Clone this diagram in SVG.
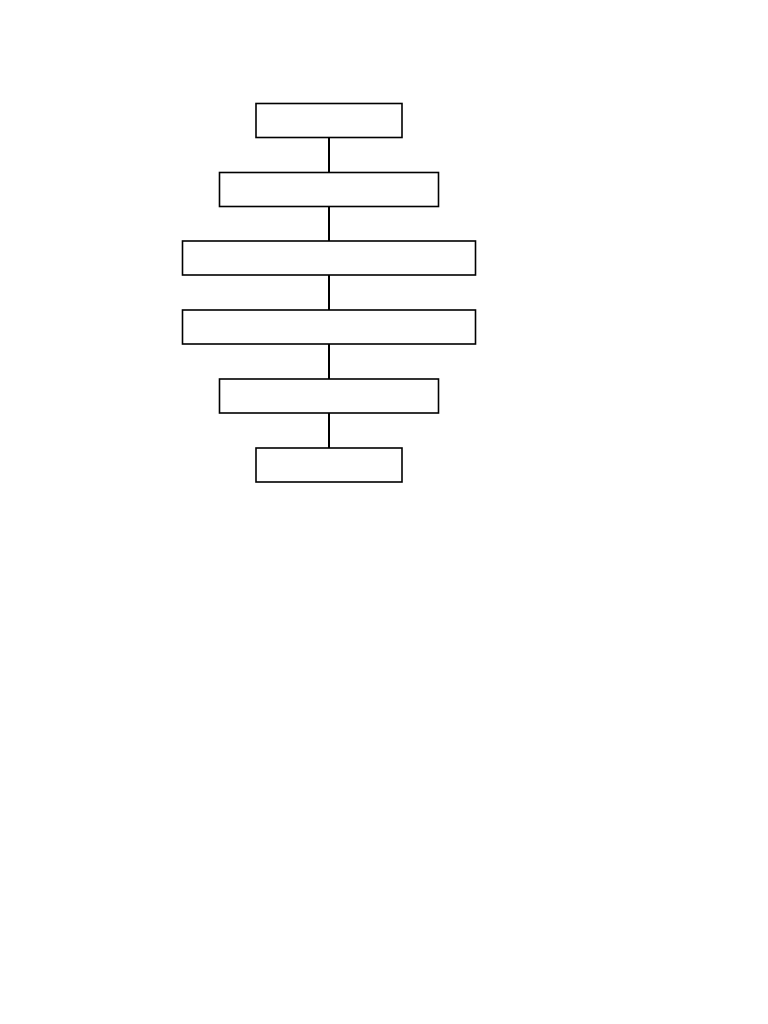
<svg xmlns="http://www.w3.org/2000/svg" width="768" height="1024" viewBox="0 0 768 1024">
<style>
.box{fill:#fff;stroke:#000;stroke-width:1.6}
.conn{stroke:#000;stroke-width:2;fill:none}
</style>
<rect width="768" height="1024" fill="#fff"/>
<g id="connectors">
<line class="conn" x1="329" y1="138" x2="329" y2="172"/>
<line class="conn" x1="329" y1="207" x2="329" y2="241"/>
<line class="conn" x1="329" y1="275" x2="329" y2="310"/>
<line class="conn" x1="329" y1="344" x2="329" y2="379"/>
<line class="conn" x1="329" y1="413" x2="329" y2="448"/>
</g>
<g id="node1"><rect class="box" x="256" y="103.5" width="146" height="34"/></g>
<g id="node2"><rect class="box" x="219.5" y="172.5" width="219" height="34"/></g>
<g id="node3"><rect class="box" x="182.5" y="241" width="293" height="34"/></g>
<g id="node4"><rect class="box" x="182.5" y="310" width="293" height="34"/></g>
<g id="node5"><rect class="box" x="219.5" y="379" width="219" height="34"/></g>
<g id="node6"><rect class="box" x="256" y="448" width="146" height="34"/></g>
</svg>
